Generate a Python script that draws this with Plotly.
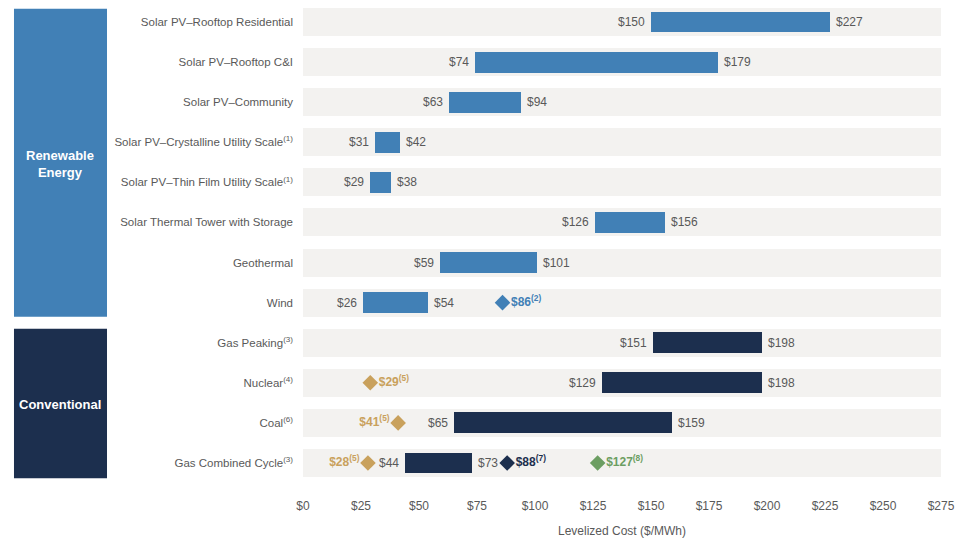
import plotly.graph_objects as go

categories = [
    "Solar PV\u2013Rooftop Residential",
    "Solar PV\u2013Rooftop C&I",
    "Solar PV\u2013Community",
    "Solar PV\u2013Crystalline Utility Scale<sup>(1)</sup>",
    "Solar PV\u2013Thin Film Utility Scale<sup>(1)</sup>",
    "Solar Thermal Tower with Storage",
    "Geothermal",
    "Wind",
    "Gas Peaking<sup>(3)</sup>",
    "Nuclear<sup>(4)</sup>",
    "Coal<sup>(6)</sup>",
    "Gas Combined Cycle<sup>(3)</sup>",
]
low_values = [150, 74, 63, 31, 29, 126, 59, 26, 151, 129, 65, 44]
high_values = [227, 179, 94, 42, 38, 156, 101, 54, 198, 198, 159, 73]
groups = ["Renewable"] * 8 + ["Conventional"] * 4

# Diamond markers
marker_cats = [7, 9, 10, 11, 11, 11]
marker_values = [86, 29, 41, 28, 88, 127]
marker_labels = ["$86<sup>(2)</sup>", "$29<sup>(5)</sup>", "$41<sup>(5)</sup>",
                 "$28<sup>(5)</sup>", "$88<sup>(7)</sup>", "$127<sup>(8)</sup>"]
marker_kinds = ["blue", "gold", "gold", "gold", "navy", "green"]
marker_sides = ["right", "right", "left", "left", "right", "right"]

axis_max = 275
tick_values = list(range(0, 276, 25))
tick_labels = ["$" + str(v) for v in tick_values]

BLUE = "#4180b6"
NAVY = "#1c2f4e"
GOLD = "#c9a15c"
GREEN = "#6c9e62"
GRAY_TXT = "#595959"
STRIPE = "#f3f2f0"
FONT = "Liberation Sans, Arial"

colors = {"blue": BLUE, "gold": GOLD, "navy": NAVY, "green": GREEN}
bar_colors = [BLUE if g == "Renewable" else NAVY for g in groups]

fig = go.Figure()

# background stripes
fig.add_trace(go.Bar(
    y=categories, x=[axis_max] * len(categories), base=0, orientation="h",
    width=0.7, marker=dict(color=STRIPE, line=dict(width=0)),
    hoverinfo="skip", showlegend=False))

# range bars
fig.add_trace(go.Bar(
    y=categories, x=[h - l for l, h in zip(low_values, high_values)],
    base=low_values, orientation="h", width=0.52,
    marker=dict(color=bar_colors, line=dict(width=0)),
    showlegend=False))

# diamonds
fig.add_trace(go.Scatter(
    y=[categories[i] for i in marker_cats], x=marker_values,
    mode="markers+text",
    marker=dict(symbol="diamond", size=12, color=[colors[k] for k in marker_kinds]),
    text=marker_labels,
    textposition=["middle " + s for s in marker_sides],
    textfont=dict(family=FONT, size=12, color=[colors[k] for k in marker_kinds],
                  weight="bold"),
    showlegend=False, cliponaxis=False))

annotations = []
for cat, lo, hi in zip(categories, low_values, high_values):
    annotations.append(dict(x=lo, y=cat, xref="x", yref="y", text="$" + str(lo),
                            showarrow=False, xanchor="right", xshift=-4,
                            font=dict(family=FONT, size=12, color=GRAY_TXT)))
    annotations.append(dict(x=hi, y=cat, xref="x", yref="y", text="$" + str(hi),
                            showarrow=False, xanchor="left", xshift=4,
                            font=dict(family=FONT, size=12, color=GRAY_TXT)))

# group boxes
box_x0, box_x1 = -0.4530, -0.3072
n_ren = groups.count("Renewable")
shapes = [
    dict(type="rect", xref="paper", yref="y", x0=box_x0, x1=box_x1,
         y0=-0.33, y1=n_ren - 1 + 0.35, fillcolor=BLUE, line=dict(width=0), layer="above"),
    dict(type="rect", xref="paper", yref="y", x0=box_x0, x1=box_x1,
         y0=n_ren - 1 + 0.65, y1=len(categories) - 1 + 0.38, fillcolor=NAVY,
         line=dict(width=0), layer="above"),
]
annotations.append(dict(x=(box_x0 + box_x1) / 2, y=3.55, xref="paper", yref="y",
                        xanchor="center", yanchor="middle",
                        text="<b>Renewable<br>Energy</b>", showarrow=False,
                        font=dict(family=FONT, size=13, color="white")))
annotations.append(dict(x=(box_x0 + box_x1) / 2, y=9.55,
                        xref="paper", yref="y", xanchor="center", yanchor="middle",
                        text="<b>Conventional</b>", showarrow=False,
                        font=dict(family=FONT, size=13, color="white")))

fig.update_layout(
    width=978, height=541,
    margin=dict(l=303, r=37, t=2, b=58),
    paper_bgcolor="white", plot_bgcolor="white",
    barmode="overlay", bargap=0,
    shapes=shapes, annotations=annotations,
    font=dict(family=FONT, size=12, color=GRAY_TXT),
    xaxis=dict(range=[0, axis_max], tickvals=tick_values, ticktext=tick_labels,
               showgrid=False, zeroline=False, showline=False, ticks="",
               ticklabelstandoff=14,
               tickfont=dict(family=FONT, size=12, color=GRAY_TXT),
               title=dict(text="Levelized Cost ($/MWh)",
                          font=dict(family=FONT, size=12, color=GRAY_TXT), standoff=14)),
    yaxis=dict(type="category", categoryorder="array", categoryarray=categories,
               range=[len(categories) - 0.5, -0.5],
               showgrid=False, zeroline=False, showline=False, ticks="",
               ticklabelstandoff=9,
               tickfont=dict(family=FONT, size=11.5, color=GRAY_TXT)),
)

fig.write_html("out.html")
